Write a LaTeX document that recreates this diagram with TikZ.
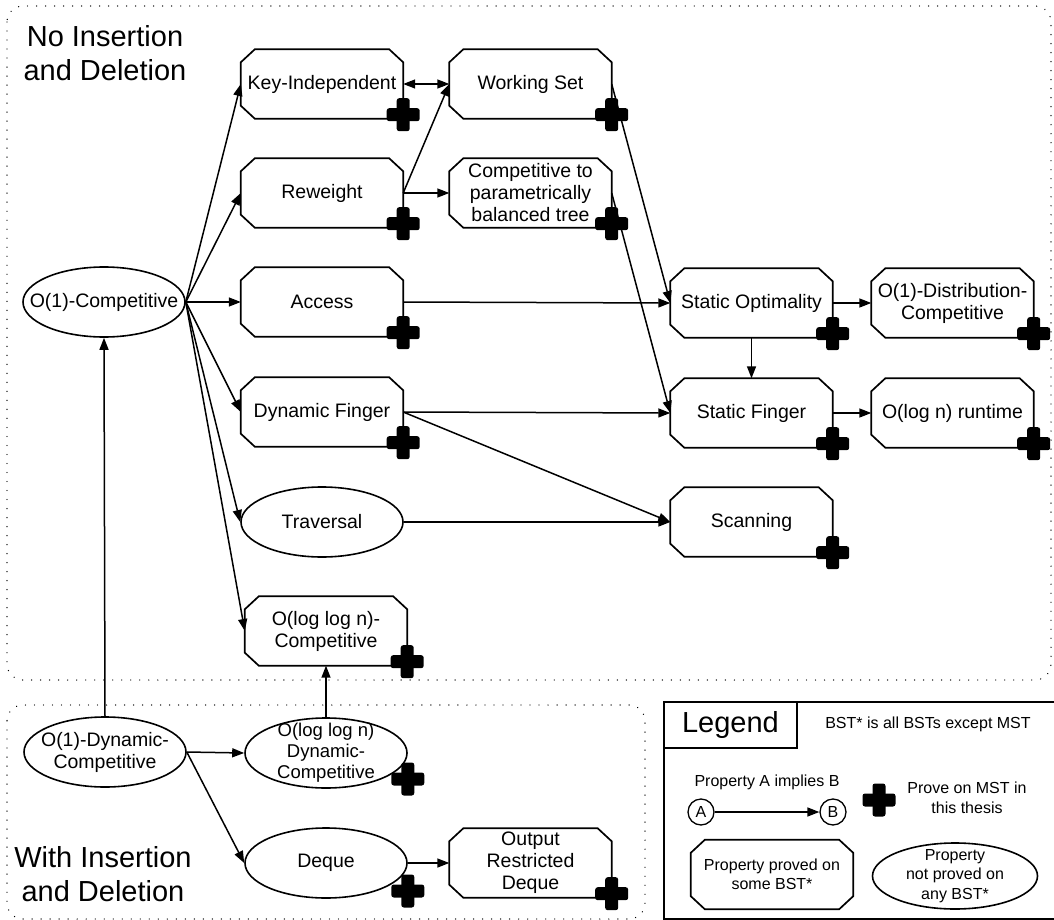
\documentclass[tikz,border=0pt]{standalone}
\usepackage{fontspec}
\setmainfont{Liberation Sans}
\usetikzlibrary{arrows.meta,shapes.geometric,calc}
\tikzset{
 mainfont/.style={font=\fontsize{19.5}{22}\selectfont},
 smallfont/.style={font=\fontsize{16}{19.5}\selectfont},
 bigfont/.style={font=\fontsize{29}{34}\selectfont},
 octbox/.style={rectangle, minimum width=162pt, minimum height=69pt, inner sep=0pt, align=center, mainfont},
 ellbox/.style={ellipse, draw, line width=1.6pt, minimum width=162pt, minimum height=70pt, inner xsep=-25pt, inner ysep=-18pt, align=center, mainfont},
 link/.style={line width=1.5pt, -{Triangle[length=12pt,width=9pt]}},
 biglink/.style={line width=1.5pt, {Triangle[length=12pt,width=9pt]}-{Triangle[length=12pt,width=9pt]}},
 octline/.style={line width=1.7pt, line join=miter},
 region/.style={line width=1.4pt, dash pattern=on 0.01pt off 9pt, line cap=round, rounded corners=16pt},
 pics/plusmark/.style={code={
   \fill[rounded corners=2.5pt] (-16.5,-6.5) rectangle (16.5,6.5);
   \fill[rounded corners=2.5pt] (-6.5,-16.5) rectangle (6.5,16.5);}},
}
\begin{document}
\begin{tikzpicture}[x=1pt,y=-1pt]
\useasboundingbox (0,0) rectangle (1054,920);
% regions
\draw[region] (7,6) rectangle (1051,680);
\draw[region] (7,705) rectangle (645,919);
\node[bigfont, align=center, inner sep=0pt] (ttop) at (105,53.5) {No Insertion\\and Deletion};
\node[bigfont, align=center, inner sep=0pt] (tbot) at (103,874.5) {With Insertion\\and Deletion};

% octagon nodes
\node[octbox] (ki) at (322,84) {Key-Independent};
\node[octbox] (ws) at (530.5,84) {Working Set};
\node[octbox] (rw) at (322,193) {Reweight};
\node[octbox] (cp) at (530.5,193) {Competitive to\\parametrically\\balanced tree};
\node[octbox] (ac) at (322,302) {Access};
\node[octbox] (so) at (751.5,303) {Static Optimality};
\node[octbox] (od) at (952.5,303) {O(1)-Distribution-\\Competitive};
\node[octbox] (df) at (322,412) {Dynamic Finger};
\node[octbox] (sf) at (751.5,413) {Static Finger};
\node[octbox] (ol) at (952.5,413) {O(log n) runtime};
\node[octbox] (sc) at (751.5,522) {Scanning};
\node[octbox] (llc) at (326,631) {O(log log n)-\\Competitive};
\node[octbox] (ord) at (530.5,863) {Output\\Restricted\\Deque};

% ellipse nodes
\node[ellbox] (o1c) at (104,302) {O(1)-Competitive};
\node[ellbox] (tr) at (322,522) {Traversal};
\node[ellbox] (o1d) at (105,752) {O(1)-Dynamic-\\Competitive};
\node[ellbox, font=\fontsize{18.5}{21}\selectfont] (lld) at (326,753) {O(log log n)\\Dynamic-\\Competitive};
\node[ellbox] (dq) at (326,863) {Deque};

% connectors
\foreach \t in {ki,rw,ac,df,tr,llc} \draw[link] (o1c.east) -- (\t.west);
\draw[link] (o1d.north) -- (o1c.south);
\draw[link] (o1d.east) -- (lld.west);
\draw[link] (o1d.east) -- (dq.west);
\draw[link] (lld.north) -- (llc.south);
\draw[link] (dq.east) -- (ord.west);
\draw[biglink] (ki.east) -- (ws.west);
\draw[link] (rw.east) -- (ws.west);
\draw[link] (rw.east) -- (cp.west);
\draw[link] (ws.east) -- (so.west);
\draw[link] (cp.east) -- (sf.west);
\draw[link] (ac.east) -- (so.west);
\draw[link] (df.east) -- (sf.west);
\draw[link] (df.east) -- (sc.west);
\draw[link] (tr.east) -- (sc.west);
\draw[link] (so.east) -- (od.west);
\draw[link] (sf.east) -- (ol.west);
\draw[link] (so.south) -- (sf.north);

% legend
\draw[line width=1.2pt] (1056,702) -- (664,702) -- (664,919) -- (1056,919);
\node[draw, line width=1.2pt, minimum width=133pt, minimum height=46pt, inner sep=0pt, bigfont] (lgt) at (730.5,725) {Legend};
\node[smallfont, inner sep=0pt] (lbst) at (928,724) {BST* is all BSTs except MST};
\node[smallfont, inner sep=0pt] (limp) at (767,782) {Property A implies B};
\node[circle, draw, line width=1.3pt, minimum size=26pt, inner sep=0pt, smallfont] (la) at (701,812) {A};
\node[circle, draw, line width=1.3pt, minimum size=26pt, inner sep=0pt, smallfont] (lb) at (833,812) {B};
\draw[link] (la.east) -- (lb.west);
\node[smallfont, align=center, inner sep=0pt] (lprove) at (967,798) {Prove on MST in\\this thesis};
\node[octbox, smallfont, minimum width=162pt, minimum height=69pt] (loct) at (772,874.5) {Property proved on\\some BST*};
\node[ellbox, smallfont, minimum width=165pt, minimum height=66pt] (lell) at (955,876) {Property\\not proved on\\any BST*};

% octagon outlines
\foreach \n in {ki,ws,rw,cp,ac,so,od,df,sf,ol,sc,llc,ord,loct}{
 \draw[octline] ([xshift=14pt]\n.north west) -- ([xshift=-14pt]\n.north east) -- ([yshift=-13pt]\n.north east) -- ([yshift=13pt]\n.south east) -- ([xshift=-14pt]\n.south east) -- ([xshift=14pt]\n.south west) -- ([yshift=13pt]\n.south west) -- ([yshift=-13pt]\n.north west) -- cycle;
}
% plus marks
\foreach \n in {ki,ws,rw,cp,ac,so,od,df,sf,ol,sc,llc,ord}{
 \pic at ([yshift=4pt]\n.south east) {plusmark};
}
\pic at ([yshift=-26pt]lld.east) {plusmark};
\pic at ([yshift=-28pt]dq.east) {plusmark};
\pic at (879,800) {plusmark};
\end{tikzpicture}
\end{document}
